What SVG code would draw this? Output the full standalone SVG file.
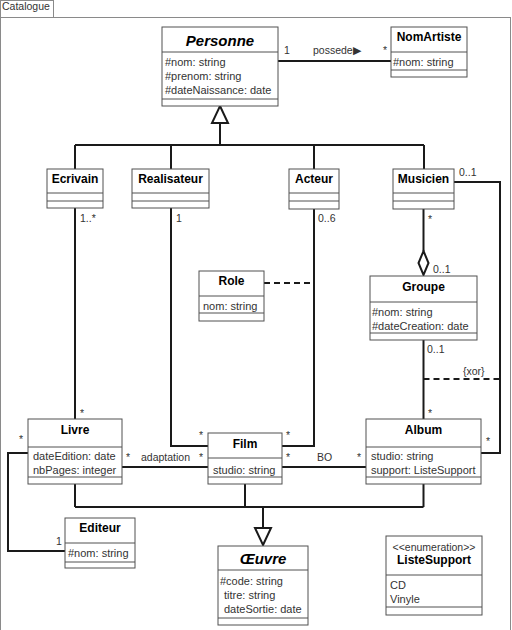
<svg xmlns="http://www.w3.org/2000/svg" width="512" height="630" viewBox="0 0 512 630">
<style>
text{font-family:"Liberation Sans",Arial,sans-serif;fill:#1a1a1a}
.box{fill:#fff;stroke:#505050;stroke-width:1}
.sep{stroke:#505050;stroke-width:1}
.t{font-weight:bold;font-size:12px;text-anchor:middle;fill:#000}
.ti{font-weight:bold;font-style:italic;font-size:15px;text-anchor:middle;fill:#000}
.a{font-size:11px;fill:#333}
.l{font-size:10.5px;fill:#333}
.c{fill:none;stroke:#1a1a1a;stroke-width:2}
.d{fill:none;stroke:#1a1a1a;stroke-width:2;stroke-dasharray:6 4}
.frame{fill:none;stroke:#8a8a8a;stroke-width:1}
</style>
<rect width="512" height="630" fill="#fff"/>
<g id="frame">
<rect class="frame" x="0.5" y="0.5" width="53" height="17"/>
<rect class="frame" x="0.5" y="17.5" width="510" height="620"/>
<text x="2" y="9.5" style="font-size:10.5px;fill:#333">Catalogue</text>
</g>
<g id="connectors">
<path class="c" d="M278 61H391"/>
<path class="c" d="M220 123V145M75 145H424M75 145V169M171 145V169M314 145V169M424 145V169"/>
<polygon points="220,106 228,123 212,123" fill="#fff" stroke="#1a1a1a" stroke-width="2"/>
<path class="c" d="M75 208V419"/>
<path class="c" d="M171 208V446H208"/>
<path class="c" d="M314 209V446H282"/>
<path class="d" d="M264 283H314"/>
<path class="c" d="M423.5 209V251"/>
<polygon points="423.5,251 428.5,263 423.5,275 418.5,263" fill="#fff" stroke="#1a1a1a" stroke-width="2"/>
<path class="c" d="M454 182H500V453H481"/>
<path class="c" d="M423.5 340V419"/>
<path class="d" d="M423.5 379H500"/>
<path class="c" d="M28 453H8V551H65"/>
<path class="c" d="M122 467H208"/>
<path class="c" d="M282 467H366"/>
<path class="c" d="M75 484V507M245 484V507M423.5 484V507M75 507H423.5M263 507V528"/>
<polygon points="263,545 271,528 255,528" fill="#fff" stroke="#1a1a1a" stroke-width="2"/>
<text class="l" x="284" y="54">1</text>
<text class="l" x="313" y="54">possede▶</text>
<text class="l" x="383" y="54">*</text>
<text class="l" x="80" y="222">1..*</text>
<text class="l" x="176" y="222">1</text>
<text class="l" x="318" y="222">0..6</text>
<text class="l" x="428" y="223">*</text>
<text class="l" x="459" y="176">0..1</text>
<text class="l" x="433" y="273">0..1</text>
<text class="l" x="427" y="353">0..1</text>
<text class="l" x="463" y="375">{xor}</text>
<text class="l" x="428" y="417">*</text>
<text class="l" x="80" y="417">*</text>
<text class="l" x="19" y="443">*</text>
<text class="l" x="486" y="445">*</text>
<text class="l" x="199" y="439">*</text>
<text class="l" x="286" y="439">*</text>
<text class="l" x="126" y="461">*</text>
<text class="l" x="141" y="461">adaptation</text>
<text class="l" x="199" y="461">*</text>
<text class="l" x="286" y="461">*</text>
<text class="l" x="317" y="461">BO</text>
<text class="l" x="357" y="461">*</text>
<text class="l" x="56" y="545">1</text>
</g>
<g id="Personne">
<rect class="box" x="162" y="27" width="116" height="79"/>
<path class="sep" d="M162 52H278M162 99H278"/>
<text class="ti" x="220" y="46">Personne</text>
<text class="a" x="165" y="66">#nom: string</text>
<text class="a" x="165" y="80">#prenom: string</text>
<text class="a" x="165" y="94">#dateNaissance: date</text>
</g>
<g id="NomArtiste">
<rect class="box" x="391" y="27" width="76" height="50"/>
<path class="sep" d="M391 52H467M391 70H467"/>
<text class="t" x="429" y="41">NomArtiste</text>
<text class="a" x="393" y="66">#nom: string</text>
</g>
<g id="Ecrivain">
<rect class="box" x="47" y="169" width="56" height="39"/>
<path class="sep" d="M47 193H103M47 201H103"/>
<text class="t" x="75" y="183">Ecrivain</text>
</g>
<g id="Realisateur">
<rect class="box" x="132" y="169" width="77" height="39"/>
<path class="sep" d="M132 193H209M132 201H209"/>
<text class="t" x="170.5" y="183">Realisateur</text>
</g>
<g id="Acteur">
<rect class="box" x="289" y="169" width="50" height="40"/>
<path class="sep" d="M289 193H339M289 201H339"/>
<text class="t" x="314" y="183">Acteur</text>
</g>
<g id="Musicien">
<rect class="box" x="393" y="169" width="61" height="40"/>
<path class="sep" d="M393 193H454M393 201H454"/>
<text class="t" x="423.5" y="183">Musicien</text>
</g>
<g id="Role">
<rect class="box" x="199" y="271" width="65" height="50"/>
<path class="sep" d="M199 296H264M199 313H264"/>
<text class="t" x="231.5" y="285">Role</text>
<text class="a" x="203" y="310">nom: string</text>
</g>
<g id="Groupe">
<rect class="box" x="370" y="276" width="107" height="64"/>
<path class="sep" d="M370 302H477M370 333H477"/>
<text class="t" x="423.5" y="291">Groupe</text>
<text class="a" x="372" y="316">#nom: string</text>
<text class="a" x="372" y="330">#dateCreation: date</text>
</g>
<g id="Livre">
<rect class="box" x="28" y="419" width="94" height="65"/>
<path class="sep" d="M28 447H122M28 477H122"/>
<text class="t" x="75" y="434">Livre</text>
<text class="a" x="33" y="460">dateEdition: date</text>
<text class="a" x="33" y="474">nbPages: integer</text>
</g>
<g id="Film">
<rect class="box" x="208" y="433" width="74" height="51"/>
<path class="sep" d="M208 458H282M208 477H282"/>
<text class="t" x="245" y="448">Film</text>
<text class="a" x="213" y="474">studio: string</text>
</g>
<g id="Album">
<rect class="box" x="366" y="419" width="115" height="65"/>
<path class="sep" d="M366 447H481M366 477H481"/>
<text class="t" x="423.5" y="434">Album</text>
<text class="a" x="371" y="460">studio: string</text>
<text class="a" x="371" y="474">support: ListeSupport</text>
</g>
<g id="Editeur">
<rect class="box" x="65" y="518" width="70" height="50"/>
<path class="sep" d="M65 543H135M65 562H135"/>
<text class="t" x="100" y="532">Editeur</text>
<text class="a" x="68" y="557">#nom: string</text>
</g>
<g id="Oeuvre">
<rect class="box" x="218" y="546" width="90" height="79"/>
<path class="sep" d="M218 570H308M218 618H308"/>
<text class="ti" x="263" y="564">Œuvre</text>
<text class="a" x="220" y="585">#code: string</text>
<text class="a" x="224" y="599">titre: string</text>
<text class="a" x="224" y="613">dateSortie: date</text>
</g>
<g id="ListeSupport">
<rect class="box" x="386" y="536" width="96" height="79"/>
<path class="sep" d="M386 575H482M386 607H482"/>
<text x="434" y="551" style="font-size:10.5px;text-anchor:middle;fill:#333">&lt;&lt;enumeration&gt;&gt;</text>
<text class="t" x="434" y="564">ListeSupport</text>
<text class="a" x="390" y="589">CD</text>
<text class="a" x="390" y="603">Vinyle</text>
</g>
</svg>
